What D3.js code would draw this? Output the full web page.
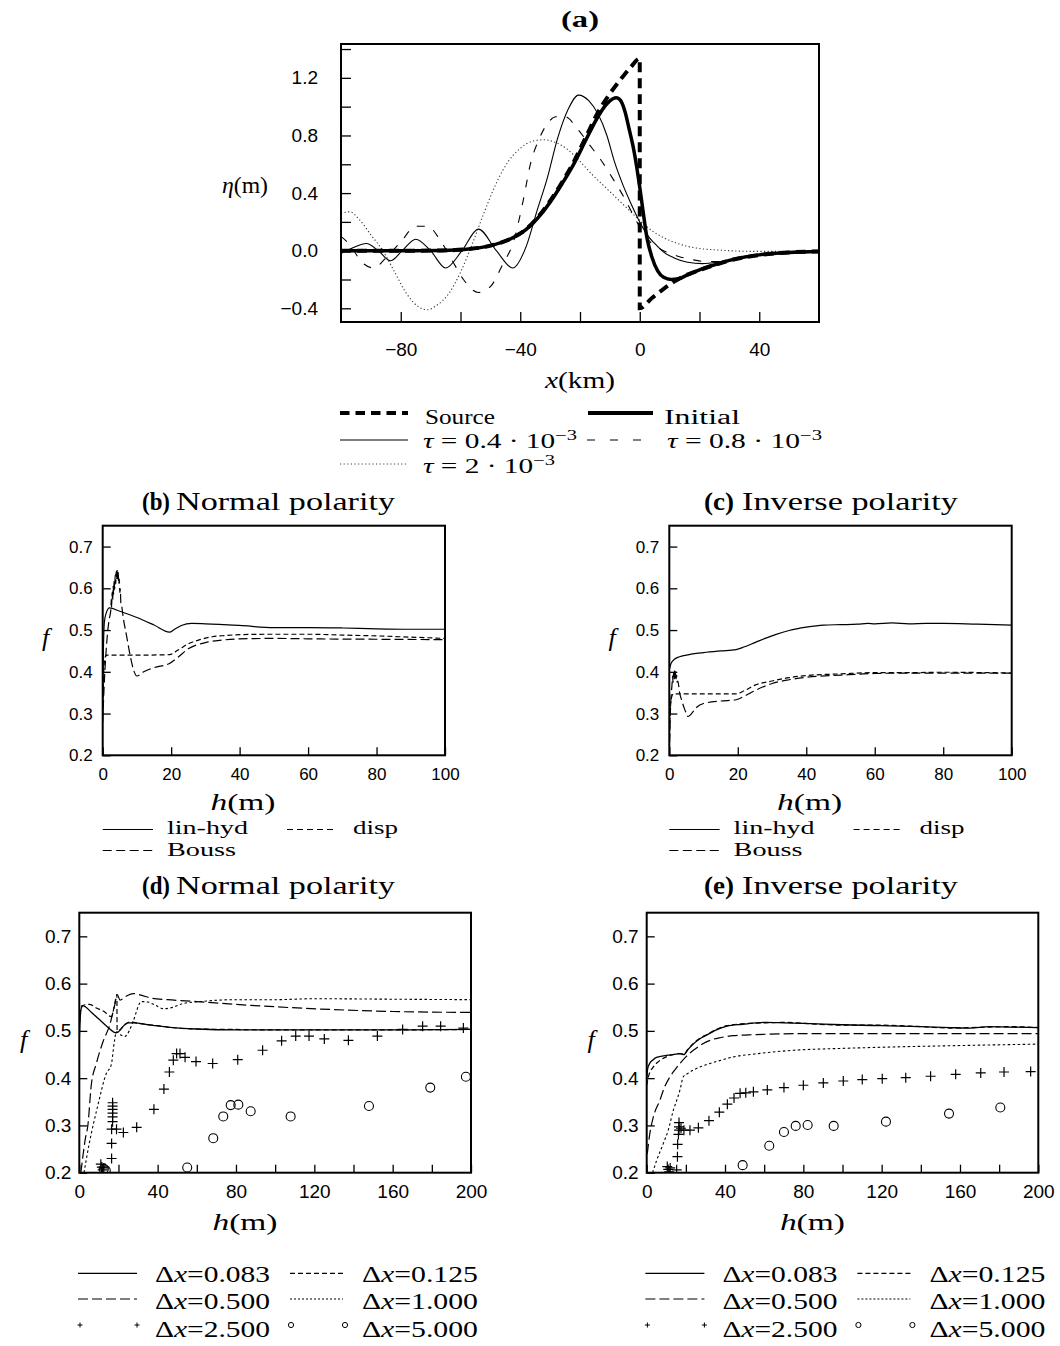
<!DOCTYPE html>
<html>
<head>
<meta charset="utf-8">
<script src="https://cdn.jsdelivr.net/npm/d3@7"></script>
<style>
body { margin: 0; background: #fff; }
</style>
</head>
<body>
<script>
////// data, panel (a): eta(m) against x(km)

const aSource = [[-100,0],[-80,0],[-66,0.002],[-58,0.01],[-50,0.035],[-43,0.085],[-38,0.15],[-34,0.235],[-30,0.345],[-26,0.475],[-22,0.62],[-18,0.79],[-14,0.96],[-10,1.09],[-6,1.2],[-3,1.275],[0,1.335],[0,-0.4],[4,-0.33],[8,-0.265],[11.5,-0.215],[15,-0.175],[20,-0.135],[25,-0.1],[30,-0.068],[40,-0.03],[50,-0.012],[60,-0.005]];
const aInitial = [[-100,0],[-80,0],[-66,0.002],[-58,0.01],[-50,0.035],[-43,0.085],[-38,0.148],[-34,0.23],[-30,0.337],[-26,0.465],[-22,0.605],[-18,0.77],[-14,0.93],[-11,1.02],[-9,1.055],[-7.8,1.062],[-6.5,1.045],[-5,0.97],[-3.5,0.84],[-2,0.7],[-1,0.58],[0,0.44],[1,0.29],[2.5,0.08],[4,-0.04],[6,-0.14],[8,-0.185],[10.5,-0.2],[13,-0.195],[16,-0.168],[20,-0.133],[25,-0.098],[30,-0.067],[40,-0.029],[50,-0.012],[60,-0.005]];
const aTau04 = [[-100,-0.02],[-96,0.02],[-91.5,0.05],[-87.5,0],[-83.5,-0.07],[-79.5,0],[-75,0.08],[-70,0],[-65,-0.12],[-59.5,0],[-54,0.15],[-48,0],[-42.5,-0.12],[-38,0.03],[-34.5,0.27],[-31,0.5],[-27.5,0.78],[-24,0.98],[-20.5,1.08],[-17,1.04],[-14,0.95],[-11,0.8],[-8.5,0.62],[-5.5,0.45],[-3,0.33],[0,0.2],[2.5,0.11],[5,0.05],[8,-0.01],[11.5,-0.05],[16,-0.08],[21,-0.09],[26,-0.08],[30,-0.065],[36,-0.04],[40,-0.029],[50,-0.012],[60,-0.005]];
const aTau08 = [[-100,0.1],[-97,0.04],[-93,-0.08],[-89,-0.12],[-85,-0.05],[-80,0.06],[-75,0.17],[-71,0.17],[-67,0.08],[-63,-0.06],[-59,-0.2],[-54,-0.29],[-50,-0.25],[-46,-0.1],[-42,0.08],[-39,0.35],[-36.5,0.61],[-34,0.76],[-31,0.88],[-28,0.93],[-25,0.93],[-21,0.85],[-17,0.74],[-13,0.63],[-9,0.5],[-5,0.36],[-2,0.24],[1,0.13],[4,0.05],[8,0],[13,-0.04],[17,-0.06],[22,-0.075],[27,-0.075],[32,-0.06],[40,-0.03],[50,-0.012],[60,-0.005]];
const aTau2 = [[-100,0.26],[-97,0.27],[-94,0.22],[-90,0.11],[-86,0],[-82,-0.15],[-78,-0.3],[-74,-0.39],[-71,-0.41],[-68,-0.38],[-64,-0.3],[-60,-0.15],[-56,0.05],[-52,0.27],[-48,0.47],[-44,0.62],[-40,0.71],[-36,0.76],[-32,0.77],[-28,0.75],[-24,0.7],[-20,0.62],[-16,0.53],[-12,0.45],[-8,0.37],[-4,0.29],[0,0.21],[4,0.14],[8,0.09],[12,0.055],[16,0.03],[20,0.015],[26,0.005],[32,-0.002],[40,-0.005],[50,-0.005],[60,-0.005]];

const aXTicks = [-80,-60,-40,-20,0,20,40];
const aXLabels = [-80,-40,0,40];
const aYTicks = [-0.4,-0.2,0,0.2,0.4,0.6,0.8,1.0,1.2,1.4];
const aYLabels = [-0.4,0,0.4,0.8,1.2];

////// data, panels (b) and (c): f against h(m), h up to 100

const bLinHyd = [[0,0.3],[0.2,0.45],[0.5,0.52],[1,0.54],[2,0.553],[5,0.545],[10,0.53],[15,0.512],[19.5,0.495],[21,0.502],[23,0.511],[26,0.516],[30,0.515],[40,0.511],[50,0.506],[60,0.506],[70,0.505],[80,0.503],[90,0.502],[100,0.502]];
const bBouss = [[0,0.28],[0.5,0.38],[1,0.45],[1.5,0.5],[2,0.53],[2.4,0.55],[2.5,0.575],[2.6,0.555],[2.75,0.59],[2.9,0.57],[3.05,0.605],[3.2,0.585],[3.35,0.62],[3.5,0.598],[3.65,0.632],[3.8,0.61],[3.95,0.64],[4.1,0.62],[4.25,0.646],[4.4,0.622],[4.55,0.638],[4.7,0.61],[4.85,0.622],[5,0.59],[5.15,0.598],[5.3,0.565],[5.5,0.56],[6,0.53],[7,0.485],[8,0.44],[9,0.405],[10,0.39],[12,0.4],[15,0.41],[19.5,0.42],[22,0.435],[25,0.455],[30,0.47],[35,0.476],[40,0.479],[50,0.48],[60,0.479],[80,0.478],[100,0.477]];
const bDisp = [[0,0.3],[0.3,0.4],[0.7,0.435],[1.2,0.44],[10,0.44],[19.5,0.441],[22,0.452],[25,0.467],[28,0.476],[32,0.484],[36,0.487],[40,0.489],[50,0.49],[60,0.49],[70,0.488],[80,0.486],[90,0.483],[100,0.48]];

const cLinHyd = [[0,0.405],[0.5,0.42],[1.5,0.43],[3,0.436],[5,0.44],[10,0.446],[15,0.45],[19.5,0.453],[22,0.46],[25,0.47],[28,0.48],[31,0.489],[35,0.499],[40,0.507],[45,0.512],[50,0.513],[55,0.514],[58,0.516],[60,0.515],[65,0.517],[70,0.515],[75,0.516],[80,0.516],[90,0.514],[100,0.512]];
const cBouss = [[0,0.2],[0.3,0.3],[0.6,0.35],[0.8,0.37],[0.95,0.39],[1.1,0.375],[1.25,0.398],[1.4,0.38],[1.55,0.402],[1.7,0.385],[1.85,0.4],[2,0.383],[2.15,0.393],[2.3,0.375],[2.5,0.378],[3,0.35],[3.5,0.335],[4.5,0.31],[5.5,0.293],[6.5,0.3],[8,0.315],[10,0.324],[15,0.33],[19.5,0.333],[22,0.342],[25,0.355],[30,0.372],[35,0.381],[40,0.387],[50,0.392],[60,0.396],[70,0.397],[80,0.397],[100,0.397]];
const cDisp = [[0,0.22],[0.3,0.31],[0.7,0.34],[1.2,0.347],[10,0.347],[19.5,0.347],[22,0.355],[25,0.368],[30,0.378],[35,0.386],[40,0.391],[50,0.395],[60,0.398],[70,0.398],[80,0.399],[100,0.397]];

const bcXTicks = [0,20,40,60,80,100];
const fTicks = [0.2,0.3,0.4,0.5,0.6,0.7];

////// data, panels (d) and (e): f against h(m) for several grid steps

const d083 = [[0,0.48],[0.5,0.53],[1.2,0.55],[2,0.553],[6,0.54],[10,0.525],[14,0.51],[18.9,0.496],[20.5,0.5],[22,0.508],[25,0.517],[28,0.517],[35,0.513],[45,0.508],[60,0.504],[80,0.502],[100,0.502],[140,0.502],[170,0.502],[200,0.503]];
const d125 = [[0,0.5],[0.5,0.54],[1.2,0.553],[5,0.556],[9,0.548],[13,0.54],[16.3,0.53],[18,0.555],[19.2,0.577],[19.3,0.5],[21,0.503],[23,0.512],[26,0.519],[30,0.516],[40,0.511],[50,0.506],[60,0.504],[80,0.503],[100,0.502],[150,0.502],[200,0.503]];
const d500 = [[0.8,0.2],[2,0.24],[3,0.27],[4.4,0.301],[6.1,0.385],[8.7,0.431],[12.1,0.477],[15.5,0.512],[18.1,0.555],[19.4,0.577],[20.8,0.565],[23.3,0.572],[27.6,0.579],[32,0.575],[36,0.57],[45,0.566],[60,0.562],[80,0.556],[100,0.551],[130,0.545],[160,0.541],[200,0.539]];
const d1000 = [[2.4,0.2],[5,0.26],[9.5,0.343],[13.8,0.41],[16.3,0.428],[18,0.48],[18.9,0.498],[21,0.492],[23.2,0.488],[25.5,0.5],[27.4,0.519],[31.7,0.562],[35,0.561],[38.5,0.555],[43,0.547],[48,0.55],[53,0.558],[62,0.562],[78,0.566],[100,0.566],[120,0.568],[160,0.567],[200,0.566]];
const d2500 = [[11,0.218],[11.5,0.212],[12,0.206],[11.8,0.2],[12.5,0.21],[16.5,0.23],[16.5,0.262],[16.5,0.292],[17,0.308],[17,0.318],[17,0.326],[17,0.334],[17,0.341],[17,0.348],[19,0.292],[22.5,0.285],[29.3,0.296],[38.1,0.334],[43.2,0.377],[46,0.413],[48,0.438],[49.7,0.452],[51.4,0.452],[54,0.444],[59.6,0.435],[68.1,0.431],[80.9,0.439],[93.6,0.459],[103.3,0.479],[110.5,0.489],[117.3,0.489],[125.1,0.483],[137.4,0.48],[152.2,0.489],[165.1,0.503],[175.3,0.51],[184.5,0.51],[196.1,0.506]];
const d5000 = [[12.5,0.208],[13.5,0.205],[55.1,0.211],[68.4,0.273],[73.5,0.319],[77.3,0.343],[81.2,0.344],[87.5,0.33],[107.9,0.319],[147.9,0.341],[179.2,0.38],[197.4,0.403]];

const e083 = [[0,0.4],[0.5,0.42],[1.5,0.431],[3,0.438],[5,0.444],[10,0.448],[15,0.451],[17,0.452],[19,0.45],[21,0.46],[24,0.473],[27,0.483],[30.6,0.491],[35,0.501],[41,0.51],[49,0.514],[61,0.518],[70,0.517],[80,0.516],[100,0.513],[120,0.511],[140,0.509],[155,0.507],[165,0.506],[175,0.509],[185,0.508],[200,0.507]];
const e125 = [[0,0.385],[1,0.405],[3.4,0.424],[6,0.435],[10,0.445],[14,0.45],[17,0.452],[19,0.451],[21,0.461],[24,0.474],[27,0.484],[30.6,0.492],[35,0.502],[41,0.511],[49,0.515],[61,0.517],[70,0.518],[80,0.516],[100,0.512],[120,0.512],[140,0.509],[155,0.506],[165,0.507],[175,0.508],[185,0.509],[200,0.507]];
const e500 = [[0.3,0.24],[1.5,0.28],[3.4,0.318],[6.8,0.354],[9,0.38],[11.9,0.403],[14.5,0.418],[17,0.431],[20,0.445],[23.8,0.459],[28,0.471],[32.3,0.48],[38,0.486],[44.3,0.49],[55,0.492],[75,0.494],[100,0.494],[126,0.494],[160,0.494],[200,0.494]];
const e1000 = [[3,0.2],[5,0.225],[8.5,0.262],[11,0.29],[13.6,0.332],[15.5,0.355],[17,0.375],[18.7,0.403],[21,0.41],[23.8,0.417],[28,0.425],[32.3,0.431],[38,0.438],[44.3,0.445],[55,0.451],[75,0.459],[100,0.463],[126,0.466],[160,0.469],[200,0.472]];
const e2500 = [[10.5,0.213],[11,0.207],[11.5,0.202],[12,0.21],[15.3,0.206],[15.7,0.234],[15.8,0.26],[16.2,0.281],[16.5,0.29],[16.5,0.297],[16.5,0.306],[17.5,0.294],[19,0.29],[22.1,0.29],[26.4,0.295],[31.8,0.31],[37.1,0.328],[41.2,0.345],[44.6,0.358],[47.7,0.368],[50.6,0.369],[54.5,0.371],[61.6,0.375],[70.1,0.38],[80,0.385],[90.2,0.39],[100.4,0.394],[110.1,0.397],[120.3,0.399],[132.3,0.401],[145,0.404],[157.8,0.408],[170.6,0.411],[182.5,0.413],[196.1,0.414]];
const e5000 = [[49,0.216],[62.6,0.257],[70.1,0.286],[76.1,0.299],[82.2,0.301],[95.5,0.299],[122.2,0.308],[154.4,0.325],[180.6,0.338]];

const deXTicks = [0,20,40,60,80,100,120,140,160,180,200];
const deXLabels = [0,40,80,120,160,200];

//////

const serif = "'Liberation Serif', 'Times New Roman', serif";
const sans = "'Liberation Sans', Arial, sans-serif";

const svg = d3.select("body").append("svg")
    .attr("width", 1060)
    .attr("height", 1346);

function panel(o) {
    const x = d3.scaleLinear().domain(o.xd).range([o.l, o.r]);
    const y = d3.scaleLinear().domain(o.yd).range([o.b, o.t]);

    svg.append("clipPath").attr("id", "clip" + o.name)
        .append("rect")
        .attr("x", o.l).attr("y", o.t)
        .attr("width", o.r - o.l).attr("height", o.b - o.t);

    const xAxis = d3.axisBottom(x)
        .tickValues(o.xt).tickSizeInner(-o.tick).tickSizeOuter(0).tickPadding(o.xpad)
        .tickFormat(d => o.xl.includes(d) ? o.xf(d) : "");
    const yAxis = d3.axisLeft(y)
        .tickValues(o.yt).tickSizeInner(-o.tick).tickSizeOuter(0).tickPadding(o.ypad)
        .tickFormat(d => o.yl.includes(d) ? o.yf(d) : "");

    [svg.append("g").attr("transform", `translate(0,${o.b})`).call(xAxis),
     svg.append("g").attr("transform", `translate(${o.l},0)`).call(yAxis)].forEach(a => {
        a.select(".domain").remove();
        a.selectAll("line").attr("stroke", "#000").attr("stroke-width", 1.3);
        a.selectAll("text").attr("font-family", sans).attr("font-size", o.fs).attr("fill", "#000");
    });

    const g = svg.append("g").attr("clip-path", `url(#clip${o.name})`);

    svg.append("rect")
        .attr("x", o.l).attr("y", o.t)
        .attr("width", o.r - o.l).attr("height", o.b - o.t)
        .attr("fill", "none").attr("stroke", "#000").attr("stroke-width", 2);

    const line = d3.line()
        .x(d => x(d[0]))
        .y(d => y(d[1]))
        .curve(d3.curveMonotoneX);

    return {x, y, g, line};
}

function curve(p, data, width, dash, color) {
    p.g.append("path")
        .attr("d", p.line(data))
        .attr("fill", "none")
        .attr("stroke", color || "#000")
        .attr("stroke-width", width)
        .attr("stroke-dasharray", dash || null);
}

function plus(p, data, size) {
    p.g.selectAll(null).data(data).enter().append("path")
        .attr("transform", d => `translate(${p.x(d[0])},${p.y(d[1])})`)
        .attr("d", `M${-size},0H${size}M0,${-size}V${size}`)
        .attr("stroke", "#000").attr("stroke-width", 1.2).attr("fill", "none");
}

function rings(p, data, r) {
    p.g.selectAll(null).data(data).enter().append("circle")
        .attr("cx", d => p.x(d[0])).attr("cy", d => p.y(d[1])).attr("r", r)
        .attr("stroke", "#000").attr("stroke-width", 1.1).attr("fill", "none");
}

// text with optional italic / bold / superscript parts, stretched to a width
function label(x, y, parts, o = {}) {
    const size = o.size || 24;
    const t = svg.append("text")
        .attr("x", x).attr("y", y)
        .attr("font-family", o.font || serif)
        .attr("font-size", size)
        .attr("text-anchor", o.anchor || "start");
    parts.forEach(p => {
        const s = typeof p === "string" ? {t: p} : p;
        const ts = t.append("tspan").text(s.t);
        if (s.i) ts.attr("font-style", "italic");
        if (s.b) ts.attr("font-weight", "bold");
        if (s.sup) ts.attr("dy", -size * 0.38).attr("font-size", size * 0.7);
    });
    if (o.w) t.attr("textLength", o.w).attr("lengthAdjust", "spacingAndGlyphs");
    return t;
}

function sample(x0, x1, y, width, dash, color) {
    svg.append("line")
        .attr("x1", x0).attr("x2", x1).attr("y1", y).attr("y2", y)
        .attr("stroke", color || "#000").attr("stroke-width", width)
        .attr("stroke-dasharray", dash || null);
}

////// panel (a)

const pa = panel({name: "a", l: 341, r: 819, t: 44, b: 322,
    xd: [-100, 60], yd: [-0.495, 1.435],
    xt: aXTicks, xl: aXLabels, yt: aYTicks, yl: aYLabels,
    xf: d3.format("d"), yf: d3.format(".1f"),
    tick: 10, fs: 19, xpad: 21, ypad: 23});

curve(pa, aTau2, 1.1, "1.2,2.4", "#333");
curve(pa, aTau08, 1.1, "8,10");
curve(pa, aTau04, 1.1);
curve(pa, aSource, 4, "10,6");
curve(pa, aInitial, 3.5);

label(580, 27, [{t: "(a)", b: true}], {anchor: "middle", w: 38});
label(222, 193, [{t: "η", i: true}, "(m)"], {w: 46});
label(580, 388, [{t: "x", i: true}, "(km)"], {anchor: "middle", w: 70});

sample(340, 408, 413, 4, "9.5,6");
label(425, 424, ["Source"], {w: 70, size: 20});
sample(588, 653, 413, 4);
label(664, 424, ["Initial"], {w: 76, size: 20});
sample(340, 408, 440, 1.1);
label(423, 448, [{t: "τ", i: true}, " = 0.4 · 10", {t: "−3", sup: true}], {w: 154, size: 20});
sample(587, 650, 440, 1.1, "8,15");
label(667, 448, [{t: "τ", i: true}, " = 0.8 · 10", {t: "−3", sup: true}], {w: 155, size: 20});
sample(340, 408, 464, 1, "1.2,2.4", "#444");
label(423, 473, [{t: "τ", i: true}, " = 2 · 10", {t: "−3", sup: true}], {w: 132, size: 20});

////// panels (b) and (c)

const fmt1 = d3.format(".1f");
const fmtD = d3.format("d");

[["b", 102.7, 445, bLinHyd, bBouss, bDisp, "Normal polarity", 142, 28, 176, 219],
 ["c", 669.3, 1011.7, cLinHyd, cBouss, cDisp, "Inverse polarity", 704, 30, 742, 216]].forEach(s => {
    const p = panel({name: s[0], l: s[1], r: s[2], t: 525.7, b: 755.3,
        xd: [0, 100], yd: [0.2, 0.75],
        xt: bcXTicks, xl: bcXTicks, yt: fTicks, yl: fTicks,
        xf: fmtD, yf: fmt1, tick: 8, fs: 17, xpad: 13, ypad: 10});
    curve(p, s[5], 1.2, "5,3");
    curve(p, s[4], 1.2, "9,4");
    curve(p, s[3], 1.2);

    const dx = s[1] - 102.7;
    label(s[7], 510, [{t: "(" + s[0] + ")", b: true}], {w: s[8], size: 26});
    label(s[9], 510, [s[6]], {w: s[10], size: 26});
    label(42 + dx, 646, [{t: "f", i: true}], {size: 26});
    label(243 + dx, 810, [{t: "h", i: true}, "(m)"], {anchor: "middle", w: 65});

    sample(102.7 + dx, 153 + dx, 829.5, 1.2);
    label(167 + dx, 834, ["lin-hyd"], {w: 81, size: 19});
    sample(287 + dx, 337 + dx, 829.5, 1.2, "6,4");
    label(353 + dx, 834, ["disp"], {w: 45, size: 19});
    sample(102.7 + dx, 153 + dx, 850.5, 1.2, "9,4.5");
    label(167 + dx, 856, ["Bouss"], {w: 69, size: 19});
});

////// panels (d) and (e)

[["d", 79.3, 471, d083, d125, d500, d1000, d2500, d5000, "Normal polarity", 142, 28, 176, 219],
 ["e", 646.7, 1038.3, e083, e125, e500, e1000, e2500, e5000, "Inverse polarity", 704, 30, 742, 216]].forEach(s => {
    const p = panel({name: s[0], l: s[1], r: s[2], t: 912.7, b: 1172.7,
        xd: [0, 200], yd: [0.2, 0.75],
        xt: deXTicks, xl: deXLabels, yt: fTicks, yl: fTicks,
        xf: fmtD, yf: fmt1, tick: 8, fs: 19, xpad: 12, ypad: 8});
    curve(p, s[6], 1.1, "2.5,2.5");
    curve(p, s[5], 1.2, "10,4");
    curve(p, s[4], 1.2, "5,3");
    curve(p, s[3], 1.3);
    plus(p, s[7], 5);
    rings(p, s[8], 4.5);

    const dx = s[1] - 79.3;
    label(s[10], 894, [{t: "(" + s[0] + ")", b: true}], {w: s[11], size: 26});
    label(s[12], 894, [s[9]], {w: s[13], size: 26});
    label(20 + dx, 1048, [{t: "f", i: true}], {size: 26});
    label(245 + dx, 1230, [{t: "h", i: true}, "(m)"], {anchor: "middle", w: 65});

    const rows = [1273.3, 1299, 1325];
    const base = [1282, 1309, 1337];
    const names = [["0.083", "0.125"], ["0.500", "1.000"], ["2.500", "5.000"]];
    sample(78 + dx, 137 + dx, rows[0], 1.2);
    sample(290 + dx, 343 + dx, rows[0], 1.2, "5,3");
    sample(78 + dx, 137 + dx, rows[1], 1.2, "10,4");
    sample(290 + dx, 343 + dx, rows[1], 1, "2,2");
    [80, 137].forEach(mx => {
        svg.append("path")
            .attr("transform", `translate(${mx + dx},${rows[2]})`)
            .attr("d", "M-2.5,0H2.5M0,-2.5V2.5")
            .attr("stroke", "#000").attr("stroke-width", 1);
    });
    [291, 345].forEach(mx => {
        svg.append("circle")
            .attr("cx", mx + dx).attr("cy", rows[2]).attr("r", 2.6)
            .attr("fill", "none").attr("stroke", "#000").attr("stroke-width", 1);
    });
    names.forEach((n, i) => {
        label(155 + dx, base[i], ["Δ", {t: "x", i: true}, "=" + n[0]], {w: 115});
        label(362 + dx, base[i], ["Δ", {t: "x", i: true}, "=" + n[1]], {w: 116});
    });
});
</script>
</body>
</html>
